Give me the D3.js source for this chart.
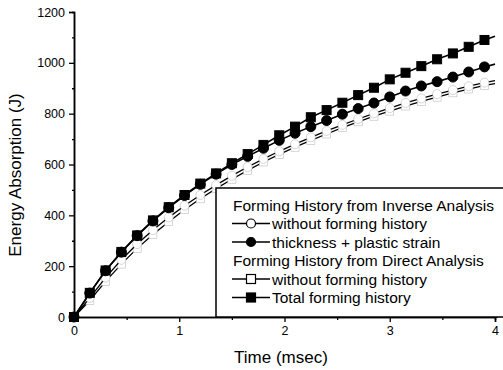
<!DOCTYPE html>
<html>
<head>
<meta charset="utf-8">
<script src="https://cdn.jsdelivr.net/npm/d3@7"></script>
<style>
body { margin:0; background:#fff; }
text { font-family: "Liberation Sans", Arial, sans-serif; fill:#000; }
</style>
</head>
<body>
<svg id="chart"></svg>
<script>
//time values (msec), markers every 0.15, line runs on to 4.0
var times = [0,0.15,0.3,0.45,0.6,0.75,0.9,1.05,1.2,1.35,1.5,1.65,1.8,1.95,2.1,
             2.25,2.4,2.55,2.7,2.85,3.0,3.15,3.3,3.45,3.6,3.75,3.9,4.0]

var inverseWithout = [0,75,155,225,287,342,392,438,480,519,556,590,622,652,680,
                      707,732,756,779,801,822,842,860,877,893,908,922,930]
var inverseThickness = [0,94,182,255,320,378,430,478,522,562,600,632,664,695,723,
                        749,773,798,820,842,866,889,909,926,944,964,984,995]
var directWithout = [0,65,140,208,270,325,375,422,465,505,542,577,610,640,668,
                     695,720,745,768,790,810,830,848,865,882,897,911,918]
var directTotal = [0,95,183,256,321,380,432,480,525,565,605,641,677,715,749,
                   786,814,843,873,902,935,961,987,1014,1037,1063,1090,1105]

var xTicks = [0,1,2,3,4]
var yTicks = [0,200,400,600,800,1000,1200]

var legendGroups = ["Forming History from Inverse Analysis","Forming History from Direct Analysis"]
var legendNames = ["without forming history","thickness + plastic strain",
                   "without forming history","Total forming history"]

var series = [
    {name:legendNames[0], values:inverseWithout, shape:"circle", filled:false},
    {name:legendNames[1], values:inverseThickness, shape:"circle", filled:true},
    {name:legendNames[2], values:directWithout, shape:"square", filled:false},
    {name:legendNames[3], values:directTotal, shape:"square", filled:true}
]

var screen = {width:503,height:370}
var svg = d3.select("#chart")
    .attr("width",screen.width)
    .attr("height",screen.height)

var xScale = d3.scaleLinear()
    .domain([0,4])
    .range([74,495])

var yScale = d3.scaleLinear()
    .domain([0,1200])
    .range([317,12])

//draws one marker at x,y
var drawMarker = function(target,s,x,y)
{
    if(s.shape=="circle")
    {
        target.append("circle")
            .attr("cx",x)
            .attr("cy",y)
            .attr("r",s.filled?5:4.5)
            .attr("fill",s.filled?"#000":"#fff")
            .attr("stroke",s.filled?"#000":"#bbb")
            .attr("stroke-width",s.filled?1:0.6)
    }
    else
    {
        var size = s.filled?9:8
        target.append("rect")
            .attr("x",x-size/2)
            .attr("y",y-size/2)
            .attr("width",size)
            .attr("height",size)
            .attr("fill",s.filled?"#000":"#fff")
            .attr("stroke",s.filled?"#000":"#bbb")
            .attr("stroke-width",s.filled?1:0.6)
    }
}

var drawLines = function()
{
    var lineGenerator = d3.line()
        .x(function(d,i){ return xScale(times[i]) })
        .y(function(d){ return yScale(d) })

    var plot = svg.append("g").classed("lines",true)

    //open series first so filled ones sit on top
    var order = [2,0,1,3]
    order.forEach(function(k)
    {
        var s = series[k]
        var g = plot.append("g")
        g.append("path")
            .datum(s.values)
            .attr("d",lineGenerator)
            .attr("fill","none")
            .attr("stroke","#000")
            .attr("stroke-width",s.filled?1.6:1.3)
        s.values.forEach(function(v,i)
        {
            if(times[i]<=3.9)
            {
                drawMarker(g,s,xScale(times[i]),yScale(v))
            }
        })
    })
}

var drawAxes = function()
{
    var yAxis = d3.axisLeft(yScale)
        .tickValues(yTicks)
        .tickSize(5)
        .tickPadding(4)
        .tickFormat(d3.format("d"))
    var yMinor = d3.axisLeft(yScale)
        .tickValues(d3.range(100,1200,200))
        .tickSize(2)
        .tickFormat("")

    var xAxis = d3.axisBottom(xScale)
        .tickValues(xTicks)
        .tickSize(5)
        .tickPadding(4)
        .tickFormat(d3.format("d"))
    var xMinor = d3.axisBottom(xScale)
        .tickValues([0.5,1.5,2.5,3.5])
        .tickSize(3)
        .tickFormat("")

    svg.append("g")
        .attr("transform","translate(74,0)")
        .call(yAxis)
    svg.append("g")
        .attr("transform","translate(74,0)")
        .call(yMinor)

    svg.append("g")
        .attr("transform","translate(0,317)")
        .call(xAxis)
    svg.append("g")
        .attr("transform","translate(0,317)")
        .call(xMinor)

    svg.selectAll(".domain")
        .attr("stroke","#000")
        .attr("stroke-width",1.5)
    svg.selectAll(".tick line")
        .attr("stroke","#000")
        .attr("stroke-width",1.3)
    svg.selectAll(".tick text")
        .style("font-family","'Liberation Sans', Arial, sans-serif")
        .style("font-size","12.5px")
        .attr("fill","#000")

    //x axis line runs a bit past 4
    svg.append("line")
        .attr("x1",495).attr("x2",498)
        .attr("y1",317).attr("y2",317)
        .attr("stroke","#000").attr("stroke-width",1.5)
}

var drawLegend = function()
{
    var legend = svg.append("g").classed("legend",true)

    legend.append("rect")
        .attr("x",216)
        .attr("y",188)
        .attr("width",320)
        .attr("height",129)
        .attr("fill","#fff")
        .attr("stroke","#000")
        .attr("stroke-width",1.5)

    var rows = [
        {text:legendGroups[0], y:205},
        {text:legendNames[0], y:223.5, s:series[0]},
        {text:legendNames[1], y:242, s:series[1]},
        {text:legendGroups[1], y:260.5},
        {text:legendNames[2], y:279, s:series[2]},
        {text:legendNames[3], y:297.5, s:series[3]}
    ]

    rows.forEach(function(r)
    {
        var tx = 233
        if(r.s)
        {
            legend.append("line")
                .attr("x1",232).attr("x2",270)
                .attr("y1",r.y).attr("y2",r.y)
                .attr("stroke","#000")
                .attr("stroke-width",1.5)
            if(r.s.shape=="circle")
            {
                legend.append("circle")
                    .attr("cx",251).attr("cy",r.y)
                    .attr("r",4.5)
                    .attr("fill",r.s.filled?"#000":"#fff")
                    .attr("stroke","#000")
                    .attr("stroke-width",1.2)
            }
            else
            {
                legend.append("rect")
                    .attr("x",246.5).attr("y",r.y-4.5)
                    .attr("width",9).attr("height",9)
                    .attr("fill",r.s.filled?"#000":"#fff")
                    .attr("stroke","#000")
                    .attr("stroke-width",1.2)
            }
            tx = 272
        }
        legend.append("text")
            .text(r.text)
            .attr("x",tx)
            .attr("y",r.y+5.5)
            .style("font-size","15.5px")
    })
}

var drawLabels = function()
{
    svg.append("text")
        .text("Time (msec)")
        .attr("text-anchor","middle")
        .attr("x",281)
        .attr("y",363)
        .style("font-size","17px")

    svg.append("text")
        .text("Energy Absorption (J)")
        .attr("text-anchor","middle")
        .attr("transform","translate(21,175) rotate(-90)")
        .style("font-size","17px")
}

drawAxes()
drawLines()
drawLegend()
drawLabels()
</script>
</body>
</html>
